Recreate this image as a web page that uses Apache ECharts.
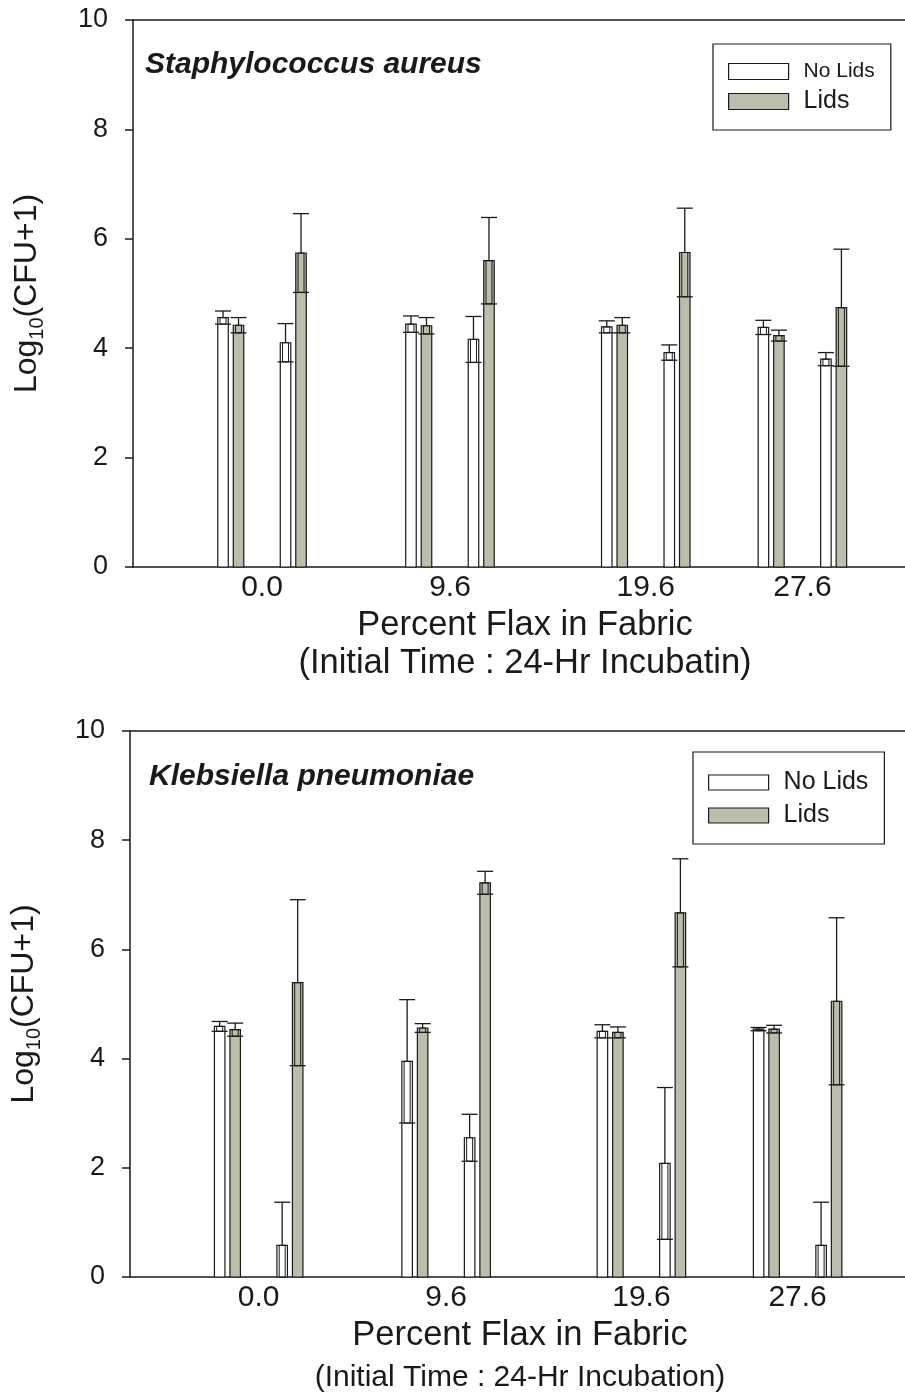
<!DOCTYPE html>
<html>
<head>
<meta charset="utf-8">
<script src="https://cdn.jsdelivr.net/npm/echarts@6/dist/echarts.min.js"></script>
<style>
  html, body { margin: 0; padding: 0; background: #fff; }
  #chart { width: 905px; height: 1395px; }
</style>
</head>
<body>
<div id="chart"></div>
<script>
// x positions (percent flax in fabric)
const flaxLevels = [0.0, 9.6, 19.6, 27.6];
const yTicks = [0, 2, 4, 6, 8, 10];

// Staphylococcus aureus: means and error (+/-)
const staphNoLidsInitial = [4.56, 4.44, 4.39, 4.38];
const staphNoLidsInitialErr = [0.12, 0.15, 0.11, 0.13];
const staphLidsInitial = [4.42, 4.41, 4.42, 4.23];
const staphLidsInitialErr = [0.14, 0.15, 0.14, 0.10];
const staphNoLids24h = [4.10, 4.16, 3.92, 3.80];
const staphNoLids24hErr = [0.35, 0.42, 0.14, 0.12];
const staphLids24h = [5.74, 5.60, 5.75, 4.74];
const staphLids24hErr = [0.72, 0.79, 0.81, 1.07];

// Klebsiella pneumoniae
const klebNoLidsInitial = [4.59, 3.95, 4.50, 4.54];
const klebNoLidsInitialErr = [0.09, 1.13, 0.12, 0.03];
const klebLidsInitial = [4.53, 4.56, 4.48, 4.54];
const klebLidsInitialErr = [0.12, 0.08, 0.10, 0.07];
const klebNoLids24h = [0.58, 2.55, 2.08, 0.58];
const klebNoLids24hErr = [0.79, 0.43, 1.39, 0.79];
const klebLids24h = [5.39, 7.22, 6.67, 5.05];
const klebLids24hErr = [1.52, 0.21, 0.99, 1.53];

const FONT = 'Liberation Sans, Arial, sans-serif';
const INK = '#1a1a1a';
const WHITE = '#ffffff';
const GRAY = '#bdbdab';
const BAR_W = 10.5;
const CAP_W = 16;
// pixel offsets of the 4 bars around each flax value
const OFFSETS = [-39, -23.5, 23.5, 39];

function barRenderer(offset, fill) {
    return function (params, api) {
        const x = api.value(0);
        const mean = api.value(1);
        const err = api.value(2);
        const base = api.coord([x, 0]);
        const top = api.coord([x, mean]);
        const cx = base[0] + offset;
        const upY = api.coord([x, mean + err])[1];
        const lowVal = mean - err;
        const lowY = lowVal > 0 ? api.coord([x, lowVal])[1] : base[1];
        const line = { stroke: INK, lineWidth: 1.3 };
        const children = [
            {
                type: 'rect',
                shape: { x: cx - BAR_W / 2, y: top[1], width: BAR_W, height: base[1] - top[1] },
                style: { fill: fill, stroke: INK, lineWidth: 1.2 }
            },
            {
                type: 'rect',
                shape: { x: cx - 3, y: top[1], width: 6, height: lowY - top[1] },
                style: { fill: 'none', stroke: INK, lineWidth: 1 }
            },
            {
                type: 'line',
                shape: { x1: cx, y1: upY, x2: cx, y2: top[1] },
                style: line
            },
            {
                type: 'line',
                shape: { x1: cx - CAP_W / 2, y1: upY, x2: cx + CAP_W / 2, y2: upY },
                style: line
            }
        ];
        if (lowVal > 0) {
            children.push({
                type: 'line',
                shape: { x1: cx - CAP_W / 2, y1: lowY, x2: cx + CAP_W / 2, y2: lowY },
                style: line
            });
        }
        return { type: 'group', children: children };
    };
}

function makeSeries(panel, name, fill, offset, means, errs) {
    return {
        type: 'custom',
        name: name,
        xAxisIndex: panel * 2,
        yAxisIndex: panel,
        renderItem: barRenderer(offset, fill),
        encode: { x: 0, y: 1 },
        itemStyle: { color: fill, borderColor: INK },
        data: flaxLevels.map((v, i) => [v, means[i], errs[i]])
    };
}

function xAxisPair(panel, min, max) {
    const axisLine = { show: true, onZero: false, lineStyle: { color: INK, width: 1.5 } };
    return [
        {
            gridIndex: panel, type: 'value', min: min, max: max,
            axisLine: axisLine,
            axisTick: { show: false },
            splitLine: { show: false },
            axisLabel: {
                customValues: flaxLevels,
                formatter: v => v.toFixed(1),
                fontSize: 30, fontFamily: FONT, color: INK, margin: 6
            }
        },
        {
            gridIndex: panel, type: 'value', position: 'top', min: min, max: max,
            axisLine: axisLine,
            axisTick: { show: false },
            axisLabel: { show: false },
            splitLine: { show: false }
        }
    ];
}

function yAxis(panel) {
    return {
        gridIndex: panel, type: 'value', min: 0, max: 10, interval: 2,
        axisLine: { show: true, onZero: false, lineStyle: { color: INK, width: 1.5 } },
        axisTick: { show: true, length: 8, lineStyle: { color: INK, width: 1.5 } },
        axisLabel: {
            fontSize: 27, fontFamily: FONT, color: INK, margin: 25,
            customValues: yTicks
        },
        splitLine: { show: false },
        name: '{n|Log}{s|10}{n|(CFU+1)}',
        nameLocation: 'middle',
        nameGap: 86,
        nameTextStyle: {
            rich: {
                n: { fontSize: 32, lineHeight: 40, fontFamily: FONT, color: INK, verticalAlign: 'middle' },
                s: { fontSize: 20, lineHeight: 20, fontFamily: FONT, color: INK, verticalAlign: 'bottom' }
            }
        }
    };
}

function legendFor(left, top, itemHeight, itemGap, padding, noLidsSize, lidsSize) {
    return {
        orient: 'vertical', left: left, top: top,
        itemWidth: 60, itemHeight: itemHeight, itemGap: itemGap,
        padding: padding,
        borderColor: INK, borderWidth: 1.2, borderRadius: 0,
        backgroundColor: '#fff',
        selectedMode: false,
        textStyle: { fontFamily: FONT, color: INK, padding: [0, 0, 0, 10] },
        data: [
            {
                name: 'No Lids', icon: 'rect',
                itemStyle: { color: WHITE, borderColor: INK, borderWidth: 1.2 },
                textStyle: { fontSize: noLidsSize }
            },
            {
                name: 'Lids', icon: 'rect',
                itemStyle: { color: GRAY, borderColor: INK, borderWidth: 1.2 },
                textStyle: { fontSize: lidsSize }
            }
        ]
    };
}

function label(x, y, text, size, extra) {
    return {
        type: 'text', x: x, y: y,
        style: Object.assign({
            text: text, fontSize: size, fontFamily: FONT, fill: INK,
            align: 'center', verticalAlign: 'middle'
        }, extra || {})
    };
}

const chart = echarts.init(document.getElementById('chart'), null, { renderer: 'canvas' });

const option = {
    backgroundColor: '#fff',
    animation: false,
    grid: [
        { left: 133, top: 20, width: 772, height: 547 },
        { left: 128, top: 731, width: 777, height: 546 }
    ],
    xAxis: [
        ...xAxisPair(0, -6.59, 32.84),
        ...xAxisPair(1, -6.59, 33.10)
    ],
    yAxis: [yAxis(0), yAxis(1)],
    legend: [
        legendFor(713, 44, 16, 7, [17, 16, 16, 15], 21, 25),
        legendFor(693, 752, 15, 8, [18, 16, 16, 15], 25, 25)
    ],
    series: [
        makeSeries(0, 'No Lids', WHITE, OFFSETS[0], staphNoLidsInitial, staphNoLidsInitialErr),
        makeSeries(0, 'Lids', GRAY, OFFSETS[1], staphLidsInitial, staphLidsInitialErr),
        makeSeries(0, 'No Lids', WHITE, OFFSETS[2], staphNoLids24h, staphNoLids24hErr),
        makeSeries(0, 'Lids', GRAY, OFFSETS[3], staphLids24h, staphLids24hErr),
        makeSeries(1, 'No Lids', WHITE, OFFSETS[0], klebNoLidsInitial, klebNoLidsInitialErr),
        makeSeries(1, 'Lids', GRAY, OFFSETS[1], klebLidsInitial, klebLidsInitialErr),
        makeSeries(1, 'No Lids', WHITE, OFFSETS[2], klebNoLids24h, klebNoLids24hErr),
        makeSeries(1, 'Lids', GRAY, OFFSETS[3], klebLids24h, klebLids24hErr)
    ],
    graphic: [
        label(145, 65, 'Staphylococcus aureus', 30,
            { align: 'left', fontStyle: 'italic', fontWeight: 'bold' }),
        label(149, 777, 'Klebsiella pneumoniae', 30,
            { align: 'left', fontStyle: 'italic', fontWeight: 'bold' }),
        label(525, 625, 'Percent Flax in Fabric', 34.5),
        label(525, 663, '(Initial Time : 24-Hr Incubatin)', 34.5),
        label(520, 1335, 'Percent Flax in Fabric', 34.5),
        label(520, 1378, '(Initial Time : 24-Hr Incubation)', 30)
    ]
};

chart.setOption(option);
</script>
</body>
</html>
